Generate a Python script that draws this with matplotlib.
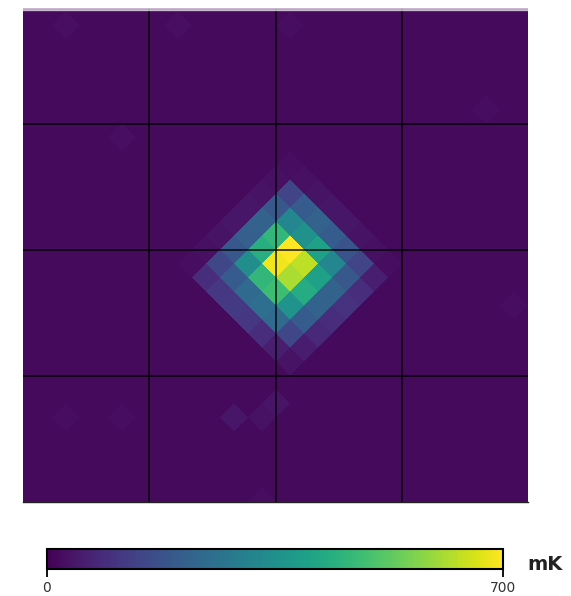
import numpy as np
import matplotlib
matplotlib.use("Agg")
import matplotlib.pyplot as plt
from matplotlib.patches import Rectangle

# ---------------- data (mK) ----------------
vmin, vmax = 0, 700
cbar_ticks = [0, 700]
cbar_ticklabels = ["0", "700"]
unit_label = "mK"

background_level = 18

# Source blob on the diamond (HEALPix-like) lattice.
# rows: a index (towards lower-right), cols: b index (towards lower-left)
blob_a = [-3, -2, -1, 0, 1, 2, 3, 4]
blob_b = [-3, -2, -1, 0, 1, 2, 3, 4]
blob_values = [
    [22,  30,  35,  40,  40,  35,  30,  22],
    [30, 140, 190, 220, 210, 190, 150,  90],
    [35, 200, 320, 460, 440, 340, 200, 110],
    [40, 220, 350, 700, 685, 460, 240, 120],
    [40, 200, 400, 630, 610, 480, 250, 110],
    [35, 180, 320, 400, 430, 360, 240,  90],
    [30, 140, 190, 220, 220, 200, 150,  60],
    [22,  60,  90, 100,  90,  80,  55,  35],
]

# faint isolated cells elsewhere in the map: (a, b, value)
faint_cells = [
    (4, 8, 40), (5, 6, 38), (5, 7, 32),
    (-12, -4, 25), (-10, 2, 25), (-8, -8, 24), (-14, 6, 24),
    (-6, -12, 25), (2, -12, 24), (-2, 14, 23), (8, 10, 24),
    (-16, 0, 25), (-11, -10, 24), (10, -6, 24), (0, 12, 23),
]

# graticule positions (degrees)
grid_x = [-1, 0, 1]
grid_y = [-1, 0, 1]

# ---------------- build map ----------------
N = 20
idx = np.arange(-N, N + 1)
values = np.full((idx.size, idx.size), float(background_level))
for i, a in enumerate(blob_a):
    for j, b in enumerate(blob_b):
        values[a + N, b + N] = blob_values[i][j]
for a, b, v in faint_cells:
    values[a + N, b + N] = v

# lattice geometry (diamond half diagonal in degrees)
d = 14.0 / 126.25
x0, y0 = d, 0.0
edges = np.arange(-N - 0.5, N + 1.0, 1.0)
A, B = np.meshgrid(edges, edges, indexing="ij")
X = x0 + d * (A - B)
Y = y0 - d * (A + B)

# ---------------- figure ----------------
W, H = 571, 596
fig = plt.figure(figsize=(W / 100, H / 100), dpi=100)

ax = fig.add_axes([23 / W, (H - 502) / H, 505 / W, 504 / H])
mesh = ax.pcolormesh(X, Y, values, cmap="viridis", vmin=vmin, vmax=vmax,
                     shading="flat", edgecolors="none", linewidth=0,
                     antialiased=False)
ax.set_xlim(-2, 2)
ax.set_ylim(-2, 2)
ax.set_xticks([])
ax.set_yticks([])
for gx in grid_x:
    ax.axvline(gx, color="black", lw=1.1, alpha=0.9)
for gy in grid_y:
    ax.axhline(gy, color="black", lw=1.1, alpha=0.9)
for s in ["left", "right", "top"]:
    ax.spines[s].set_visible(False)
ax.spines["bottom"].set_color("#222222")
ax.spines["bottom"].set_linewidth(1.0)

# white fade at the top edge of the picture
fig.patches.append(Rectangle((0, 1 - 7 / H), 1, 7 / H, transform=fig.transFigure,
                             color="white", zorder=10))
fig.patches.append(Rectangle((0, 1 - 10 / H), 1, 3 / H, transform=fig.transFigure,
                             color="white", alpha=0.6, zorder=10))

# colorbar
cax = fig.add_axes([47 / W, (H - 569) / H, 456 / W, 20 / H])
cb = fig.colorbar(mesh, cax=cax, orientation="horizontal", ticks=cbar_ticks)
cb.ax.set_xticklabels(cbar_ticklabels)
cb.outline.set_linewidth(1.5)
cb.outline.set_edgecolor("black")
cb.ax.tick_params(length=6, width=1.3, color="black", labelsize=10,
                  labelcolor="#333333", pad=3)
fig.text(527 / W, (H - 574) / H, unit_label, fontsize=14, fontweight="bold",
         color="#222222", va="bottom", ha="left")

fig.savefig("out.png", dpi=100)
